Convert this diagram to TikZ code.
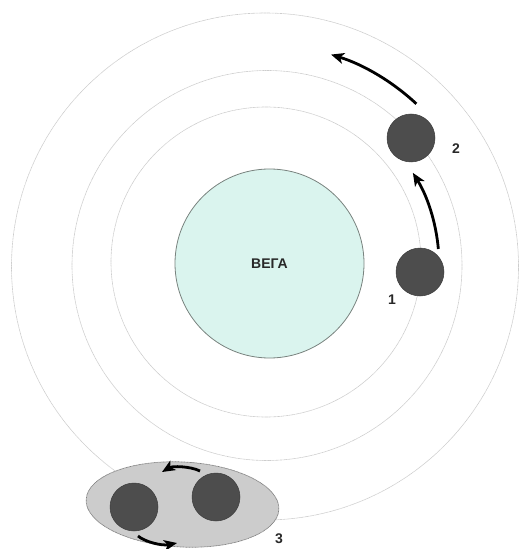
\documentclass[tikz,border=0pt]{standalone}
\usepackage{fontspec}
\setmainfont{Liberation Sans}
\usetikzlibrary{arrows.meta,calc}
\definecolor{orbitgray}{RGB}{205,205,205}
\definecolor{starfill}{RGB}{218,244,238}
\definecolor{starline}{RGB}{120,130,126}
\definecolor{planetfill}{RGB}{77,77,77}
\definecolor{planetline}{RGB}{60,60,60}
\definecolor{shellfill}{RGB}{204,204,204}
\definecolor{shellline}{RGB}{130,130,130}
\definecolor{labeltext}{RGB}{40,40,40}
\begin{document}
\begin{tikzpicture}[x=1bp,y=-1bp,
  orbit/.style={draw=orbitgray,line width=0.6bp,dash pattern=on 1.2bp off 0.4bp},
  starbody/.style={circle,draw=starline,line width=0.8bp,fill=starfill,minimum size=189bp,inner sep=0pt,font=\bfseries\fontsize{14bp}{14bp}\selectfont,text=labeltext},
  planet/.style={circle,fill=planetfill,draw=planetline,line width=0.5bp,minimum size=48bp,inner sep=0pt},
  shell/.style={fill=shellfill,draw=shellline,line width=0.7bp,dash pattern=on 1bp off 0.5bp},
  motion/.style={line width=2.8bp,-{Stealth[length=13bp,width=11bp,inset=3.5bp]}},
  tag/.style={font=\bfseries\fontsize{14bp}{14bp}\selectfont,text=labeltext,inner sep=0pt}]
\useasboundingbox (0,0) rectangle (520,549);
\coordinate (O) at (267,264);
% orbits
\draw[orbit] (266,262) circle[radius=155];
\draw[orbit] (267,265.5) circle[radius=195];
\draw[orbit] (265,266.5) circle[radius=253.5];
% star
\node[starbody] (vega) at (269.5,263.5) {ВЕГА};
% binary system shell
\draw[shell, rotate around={-3:(182.5,504.5)}] (182.5,504.5) ellipse[x radius=96.5, y radius=42.5];
% planets
\node[planet] (p1) at (420,272) {};
\node[planet] (p2) at (411,138) {};
\node[planet] (b1) at (134,507) {};
\node[planet] (b2) at (216,497) {};
% labels
\node[tag] (l1) at (392,300) {1};
\node[tag] (l2) at (456,149) {2};
\node[tag] (l3) at (279,538.5) {3};
% motion arrows
\draw[motion] ($(O)+(-5:172)$) arc[start angle=-5, end angle=-32, radius=172];
\draw[motion] ($(O)+(-47:219)$) arc[start angle=-47, end angle=-73, radius=219];
\draw[motion] (200,471) .. controls (190,466) and (172,466) .. (162,472);
\draw[motion] (138,536) .. controls (145,542) and (162,546) .. (177,543);
\end{tikzpicture}
\end{document}
